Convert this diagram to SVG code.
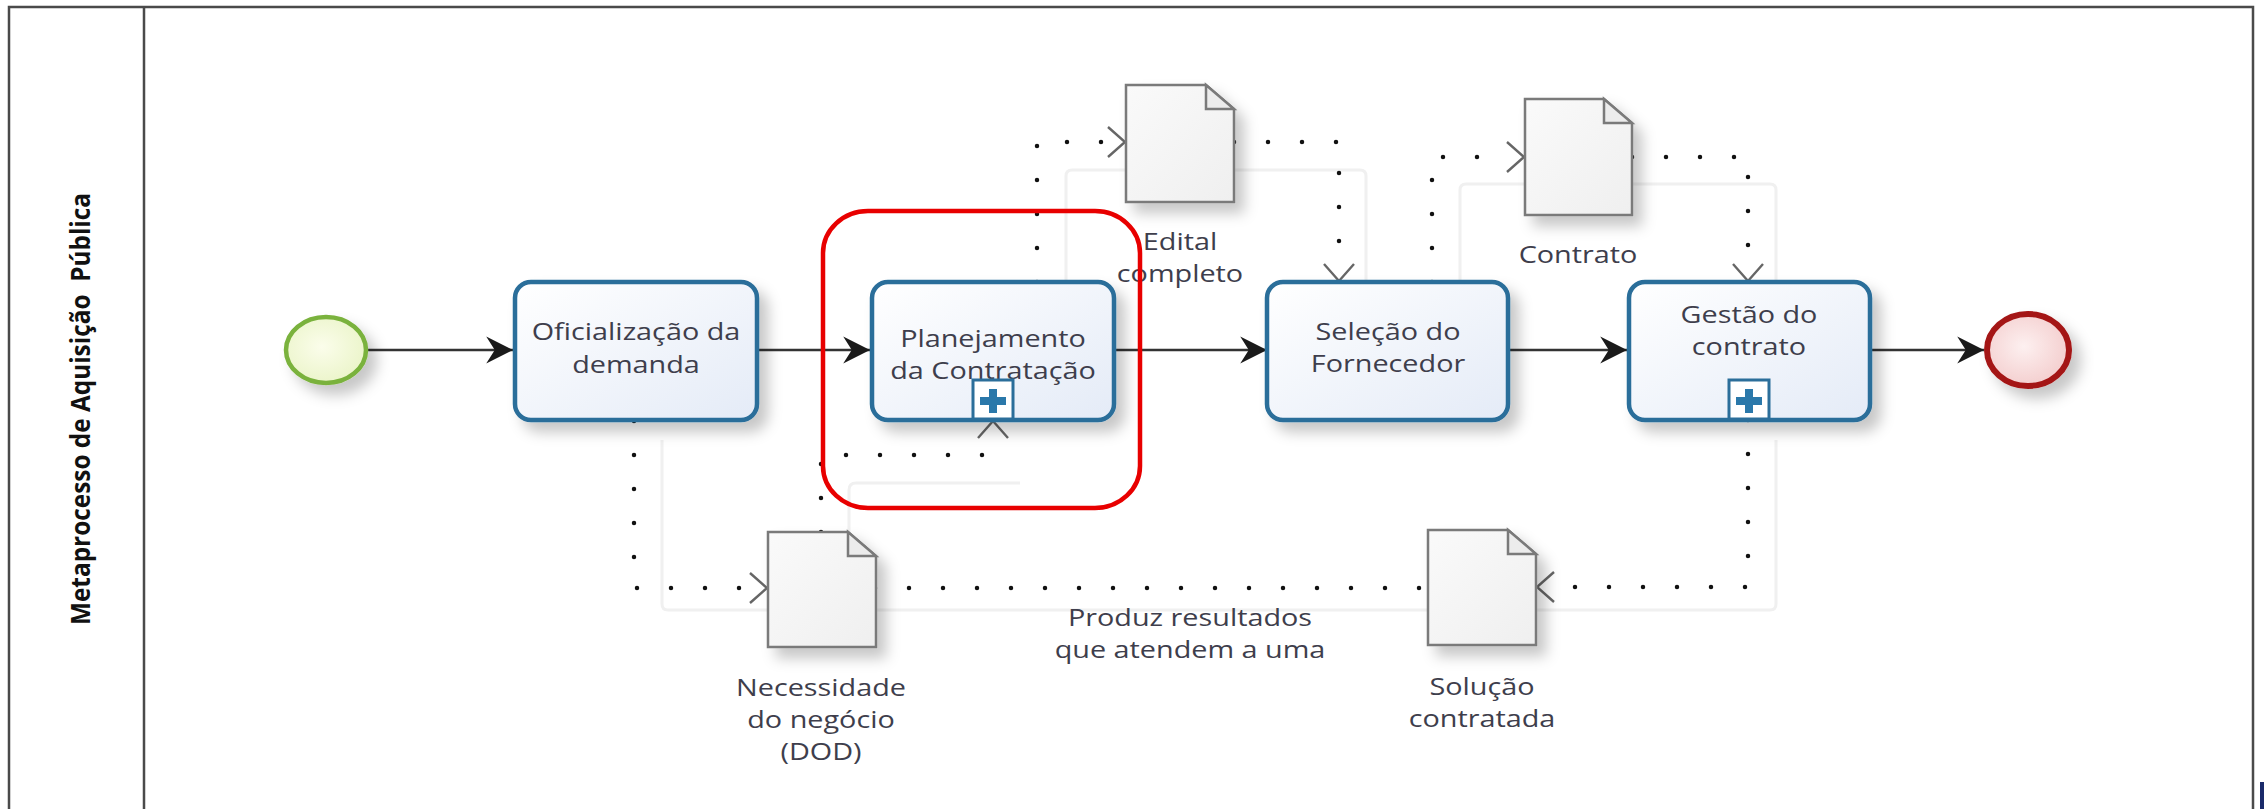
<svg xmlns="http://www.w3.org/2000/svg" width="2264" height="809" viewBox="0 0 2264 809">
<style>
.frame{fill:none;stroke:#4a4a4a;stroke-width:2.5}
.task{stroke:#2b6e9a;stroke-width:4.5;fill:url(#gTask)}
.lbl{font-family:"Open Sans","Noto Sans","DejaVu Sans",sans-serif;font-size:24px;fill:#3e3e4c;text-anchor:middle}
.title{font-family:"Open Sans","Liberation Sans",sans-serif;font-size:22px;font-weight:bold;fill:#111;text-anchor:middle}
.seq{fill:none;stroke:#333;stroke-width:2.5}
.assoc{fill:none;stroke:#111;stroke-width:4.5;stroke-linecap:round;stroke-dasharray:0 34}
.shad{fill:none;stroke:#f0f0f0;stroke-width:3;stroke-linejoin:round}
.doc{fill:url(#gDoc);stroke:#7a7a7a;stroke-width:2.5;stroke-linejoin:miter}
.fold{fill:#ececec;stroke:#7a7a7a;stroke-width:2.5}
.plusbox{fill:#fff;stroke:#2b6e9a;stroke-width:3}
.plus{fill:#2a78aa}
</style>
<defs>
<linearGradient id="gTask" x1="0" y1="0" x2="1" y2="1">
<stop offset="0" stop-color="#ffffff"/><stop offset="1" stop-color="#e4ebf7"/>
</linearGradient>
<linearGradient id="gDoc" x1="0" y1="0" x2="1" y2="1">
<stop offset="0" stop-color="#fafafa"/><stop offset="1" stop-color="#efefef"/>
</linearGradient>
<radialGradient id="gStart" cx="0.45" cy="0.45" r="0.6">
<stop offset="0" stop-color="#fbfdeb"/><stop offset="1" stop-color="#eaf4c8"/>
</radialGradient>
<radialGradient id="gEnd" cx="0.45" cy="0.45" r="0.6">
<stop offset="0" stop-color="#fdf0f0"/><stop offset="1" stop-color="#f3cccc"/>
</radialGradient>
<filter id="sh" x="-20%" y="-20%" width="150%" height="160%">
<feDropShadow dx="9" dy="10" stdDeviation="7" flood-color="#000" flood-opacity="0.22"/>
</filter>
<marker id="arr" markerUnits="userSpaceOnUse" markerWidth="30" markerHeight="30" viewBox="-26 -14 28 28" refX="0" refY="0" orient="auto">
<path d="M0,0 L-25,-12.5 L-17,0 L-25,12.5 Z" fill="#1a1a1a"/>
</marker>
<marker id="oarr" markerUnits="userSpaceOnUse" markerWidth="24" markerHeight="36" viewBox="-20 -18 22 36" refX="0" refY="0" orient="auto">
<path d="M-17,-15 L0,0 L-17,15" fill="none" stroke="#666" stroke-width="2.4"/>
</marker>
</defs>

<g id="pool">
<path class="frame" d="M9,809 V7 H2253 V809"/>
<line class="frame" x1="144" y1="7" x2="144" y2="809"/>
<text class="title" transform="translate(80 409) rotate(-90) scale(1 1.2)" x="0" y="0" dominant-baseline="central" textLength="432" lengthAdjust="spacingAndGlyphs">Metaprocesso de Aquisição&#160; Pública</text>
<rect x="2260" y="782" width="4" height="27" fill="#1a2a6a"/>
</g>

<g id="connector-shadows">
<path class="shad" d="M662,440 V604 Q662,610 668,610 H1770 Q1776,610 1776,604 V440"/>
<path class="shad" d="M849,555 V490 Q849,483 856,483 H1020"/>
<path class="shad" d="M1066,300 V176 Q1066,170 1072,170 H1360 Q1366,170 1366,176 V300"/>
<path class="shad" d="M1460,300 V190 Q1460,184 1466,184 H1770 Q1776,184 1776,190 V300"/>
</g>

<g id="connectors">
<path class="seq" d="M367,350 H513" marker-end="url(#arr)"/>
<path class="seq" d="M757,350 H870" marker-end="url(#arr)"/>
<path class="seq" d="M1114,350 H1267" marker-end="url(#arr)"/>
<path class="seq" d="M1508,350 H1627" marker-end="url(#arr)"/>
<path class="seq" d="M1870,350 H1984" marker-end="url(#arr)"/>

<path class="assoc" d="M634,421 V588 H766"/>
<path d="M634,421 V588 H767" fill="none" stroke="none" marker-end="url(#oarr)"/>
<path class="assoc" d="M821,532 V455 H993 V440"/>
<path d="M993,455 V421" fill="none" stroke="none" marker-end="url(#oarr)"/>
<path class="assoc" d="M1037,282 V142 H1108"/>
<path d="M1037,142 H1125" fill="none" stroke="none" marker-end="url(#oarr)"/>
<path class="assoc" d="M1234,142 H1339 V262"/>
<path d="M1339,142 V281" fill="none" stroke="none" marker-end="url(#oarr)"/>
<path class="assoc" d="M1432,282 V157 H1506"/>
<path d="M1432,157 H1524" fill="none" stroke="none" marker-end="url(#oarr)"/>
<path class="assoc" d="M1632,157 H1748 V262"/>
<path d="M1748,157 V281" fill="none" stroke="none" marker-end="url(#oarr)"/>
<path class="assoc" d="M1748,420 V587 H1556"/>
<path d="M1748,587 H1537" fill="none" stroke="none" marker-end="url(#oarr)"/>
<path class="assoc" d="M875,588 H1428"/>
</g>

<g id="start">
<ellipse cx="326" cy="350" rx="40" ry="33" fill="url(#gStart)" stroke="#7ab23c" stroke-width="4.5" filter="url(#sh)"/>
</g>

<g id="task-oficializacao">
<rect class="task" x="515" y="282" width="242" height="138" rx="16" filter="url(#sh)"/>
<text class="lbl" transform="translate(636 0) scale(1.2 1)" x="0" y="340">Oficialização da<tspan x="0" y="373">demanda</tspan></text>
</g>

<g id="task-planejamento">
<rect class="task" x="872" y="282" width="242" height="138" rx="16" filter="url(#sh)"/>
<text class="lbl" transform="translate(993 0) scale(1.2 1)" x="0" y="347">Planejamento<tspan x="0" y="379">da Contratação</tspan></text>
<rect class="plusbox" x="973" y="380" width="40" height="39"/>
<path class="plus" d="M989,389 h8 v8 h9 v8 h-9 v8 h-8 v-8 h-9 v-8 h9 z"/>
</g>

<g id="task-selecao">
<rect class="task" x="1267" y="282" width="241" height="138" rx="16" filter="url(#sh)"/>
<text class="lbl" transform="translate(1388 0) scale(1.2 1)" x="0" y="340">Seleção do<tspan x="0" y="372">Fornecedor</tspan></text>
</g>

<g id="task-gestao">
<rect class="task" x="1629" y="282" width="241" height="138" rx="16" filter="url(#sh)"/>
<text class="lbl" transform="translate(1749 0) scale(1.2 1)" x="0" y="323">Gestão do<tspan x="0" y="355">contrato</tspan></text>
<rect class="plusbox" x="1729" y="380" width="40" height="39"/>
<path class="plus" d="M1745,389 h8 v8 h9 v8 h-9 v8 h-8 v-8 h-9 v-8 h9 z"/>
</g>

<g id="end">
<ellipse cx="2028" cy="350" rx="41" ry="36" fill="url(#gEnd)" stroke="#a41414" stroke-width="6" filter="url(#sh)"/>
</g>

<g id="doc-edital">
<path class="doc" d="M1126,85 H1206 L1234,109 V202 H1126 Z" filter="url(#sh)"/>
<path class="fold" d="M1206,85 V109 H1234 Z"/>
<text class="lbl" transform="translate(1180 0) scale(1.2 1)" x="0" y="250">Edital<tspan x="0" y="282">completo</tspan></text>
</g>

<g id="doc-contrato">
<path class="doc" d="M1525,99 H1604 L1632,123 V215 H1525 Z" filter="url(#sh)"/>
<path class="fold" d="M1604,99 V123 H1632 Z"/>
<text class="lbl" transform="translate(1578 0) scale(1.2 1)" x="0" y="263">Contrato</text>
</g>

<g id="doc-necessidade">
<path class="doc" d="M768,532 H848 L876,556 V647 H768 Z" filter="url(#sh)"/>
<path class="fold" d="M848,532 V556 H876 Z"/>
<text class="lbl" transform="translate(821 0) scale(1.2 1)" x="0" y="696">Necessidade<tspan x="0" y="728">do negócio</tspan><tspan x="0" y="760">(DOD)</tspan></text>
</g>

<g id="doc-solucao">
<path class="doc" d="M1428,530 H1508 L1536,554 V645 H1428 Z" filter="url(#sh)"/>
<path class="fold" d="M1508,530 V554 H1536 Z"/>
<text class="lbl" transform="translate(1482 0) scale(1.2 1)" x="0" y="695">Solução<tspan x="0" y="727">contratada</tspan></text>
</g>

<g id="assoc-label">
<text class="lbl" transform="translate(1190 0) scale(1.2 1)" x="0" y="626">Produz resultados<tspan x="0" y="658">que atendem a uma</tspan></text>
</g>

<g id="highlight">
<rect x="823" y="211" width="317" height="297" rx="45" ry="42" fill="none" stroke="#e80000" stroke-width="4.5"/>
</g>
</svg>
